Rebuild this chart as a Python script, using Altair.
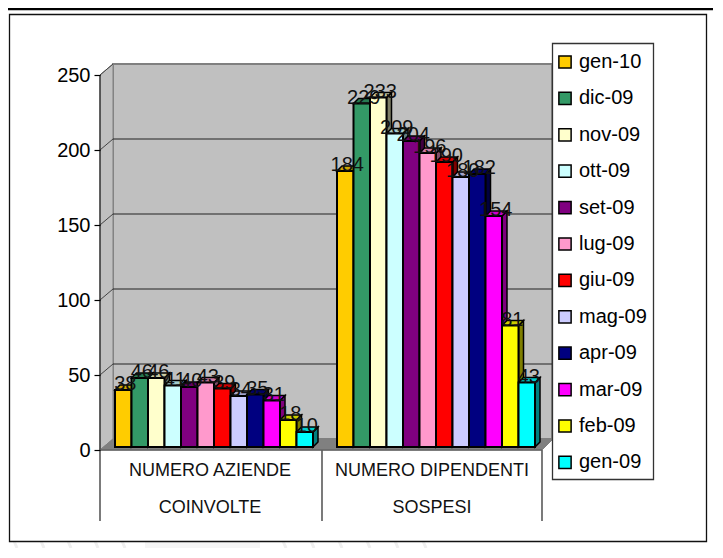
import altair as alt
import pandas as pd

months = ["gen-10","dic-09","nov-09","ott-09","set-09","lug-09","giu-09","mag-09","apr-09","mar-09","feb-09","gen-09"]
colors = ["#FFCC00","#339966","#FFFFCC","#CCFFFF","#800080","#FF99CC","#FF0000","#CCCCFF","#000080","#FF00FF","#FFFF00","#00FFFF"]
aziende = [38,46,46,41,40,43,39,34,35,31,18,10]
dipendenti = [184,229,233,209,204,196,190,180,182,154,81,43]
cat_lines = [["NUMERO AZIENDE","COINVOLTE"],["NUMERO DIPENDENTI","SOSPESI"]]
y_ticks = [0,50,100,150,200,250]

FONT = "Liberation Sans"
W, H = 705, 540
def U(px): return (px-115)/16.5          # image x -> slot units
def V(py): return (450-py)/1.5           # image y -> value units
xs = alt.Scale(domain=[U(8),U(8+W)], range=[0,W], nice=False, zero=False)
ys = alt.Scale(domain=[V(8+H),V(8)], range=[H,0], nice=False, zero=False)
y_axis = alt.Axis(orient="left",offset=-92,values=y_ticks,domain=False,grid=False,title=None,zindex=1,
        tickColor="black",tickSize=6,tickWidth=1.2,labelFont=FONT,labelFontSize=20,labelColor="black",labelPadding=4)
X = lambda f="x": alt.X(f, type="quantitative", scale=xs, axis=None)
X2 = lambda f="x2": alt.X2(f)
Y = lambda f="y": alt.Y(f, type="quantitative", scale=ys, axis=y_axis, stack=None)
Y2 = lambda f="y2": alt.Y2(f)

def shade(c,k):
    return "#%02X%02X%02X"%tuple(int(int(c[i:i+2],16)*k) for i in (1,3,5))

BASE=2.0; DX=5/16.5; DY=5/1.5
GROUP_START=[0.0,U(337)]
fr,top,side,lab=[],[],[],[]
bid=0
for g,vals in enumerate([aziende,dipendenti]):
    for i,v in enumerate(vals):
        x0=GROUP_START[g]+i; x1=x0+1; t=v+BASE
        fr.append(dict(x=x0,x2=x1,y=t,y2=BASE,month=months[i]))
        for a,b,c in [(x0,t,t),(x0+DX,t+DY,t),(x1,t+DY,t),(x1+DX,t+DY,t+DY)]:
            top.append(dict(x=a,y=b,y2=c,id=bid,c=shade(colors[i],.8)))
        for a,b,c in [(x1,t,BASE),(x1+DX,t+DY,BASE+DY)]:
            side.append(dict(x=a,y=b,y2=c,id=bid,c=shade(colors[i],.5)))
        lab.append(dict(x=x0+.5+2/16.5,y=t,t=str(v)))
        bid+=1
fr,top,side,lab=map(pd.DataFrame,(fr,top,side,lab))

def df(rows): return pd.DataFrame(rows)
layers=[]
# faint page stripes under the frame
stripes=df([dict(x=U(p),x2=U(p+3),y=V(541),y2=V(548)) for p in (14,41,68,95,122,283,311,339,367,395,423)])
layers.append(alt.Chart(stripes).mark_rule(color="#EFEFEF",strokeWidth=3).encode(x=X(),x2=X2(),y=Y(),y2=Y2()))
layers.append(alt.Chart(df([dict(x=U(145),x2=U(260),y=V(542),y2=V(548))])).mark_rect(fill="#F5F5F5").encode(x=X(),x2=X2(),y=Y(),y2=Y2()))
# frame
layers.append(alt.Chart(df([dict(x=U(9.5),x2=U(706.5),y=V(14.5),y2=V(541.5))])).mark_rect(fill="white",stroke="#111111",strokeWidth=1.3).encode(x=X(),x2=X2(),y=Y(),y2=Y2()))
# top page rule
layers.append(alt.Chart(df([dict(x=U(8),x2=U(8+W),y=V(9))])).mark_rule(color="black",strokeWidth=2.5).encode(x=X(),x2=X2(),y=Y()))
# wall
layers.append(alt.Chart(df([dict(x=U(113),x2=U(552),y=V(64),y2=V(439))])).mark_rect(fill="#C0C0C0",stroke="#808080",strokeWidth=1.8).encode(x=X(),x2=X2(),y=Y(),y2=Y2()))
# side wall
layers.append(alt.Chart(df([dict(x=U(100),y=V(75),y2=V(450)),dict(x=U(113),y=V(64),y2=V(439))])).mark_area(fill="#C0C0C0",stroke="#808080",strokeWidth=1).encode(x=X(),y=Y(),y2=Y2()))
# floor
layers.append(alt.Chart(df([dict(x=U(100),y=V(450),y2=V(450)),dict(x=U(113),y=V(450),y2=V(439)),dict(x=U(542),y=V(450),y2=V(439)),dict(x=U(553),y=V(439),y2=V(439))])).mark_area(fill="#808080",stroke="#808080").encode(x=X(),y=Y(),y2=Y2()))
# gridlines
wall_dy=V(439)-V(450)
grid=df([dict(x=U(113),x2=U(552),y=v+wall_dy) for v in y_ticks[1:-1]])
layers.append(alt.Chart(grid).mark_rule(color="#222222",strokeWidth=1).encode(x=X(),x2=X2(),y=Y()))
diag=df([dict(x=U(100),x2=U(113),y=v,y2=v+wall_dy) for v in y_ticks[1:]])
layers.append(alt.Chart(diag).mark_rule(color="#444444",strokeWidth=1).encode(x=X(),x2=X2(),y=Y(),y2=Y2()))
# front axis lines
layers.append(alt.Chart(df([dict(x=U(100),y=250,y2=V(521)),dict(x=U(322),y=0,y2=V(521)),dict(x=U(542),y=0,y2=V(521))])).mark_rule(color="#222222",strokeWidth=1.2).encode(x=X(),y=Y(),y2=Y2()))
layers.append(alt.Chart(df([dict(x=U(100),x2=U(542),y=0)])).mark_rule(color="#666666",strokeWidth=1.5).encode(x=X(),x2=X2(),y=Y()))
# bars
layers.append(alt.Chart(side).mark_area(stroke="black",strokeWidth=1.5).encode(x=X(),y=Y(),y2=Y2(),fill=alt.Fill("c:N",scale=None),detail="id:N"))
layers.append(alt.Chart(top).mark_area(stroke="black",strokeWidth=1.5).encode(x=X(),y=Y(),y2=Y2(),fill=alt.Fill("c:N",scale=None),detail="id:N"))
# legend box
layers.append(alt.Chart(df([dict(x=U(552.5),x2=U(653.5),y=V(43.5),y2=V(479.5))])).mark_rect(fill="white",stroke="#333333",strokeWidth=1.3).encode(x=X(),x2=X2(),y=Y(),y2=Y2()))
layers.append(alt.Chart(fr).mark_rect(stroke="black",strokeWidth=2).encode(x=X(),x2=X2(),y=Y(),y2=Y2(),
    fill=alt.Fill("month:N",scale=alt.Scale(domain=months,range=colors),sort=months,
      legend=alt.Legend(orient="none",legendX=542,legendY=39,title=None,padding=5,
        symbolType="square",symbolSize=150,symbolStrokeColor="black",symbolStrokeWidth=1.5,
        labelFont=FONT,labelFontSize=20,labelColor="black",labelOffset=4,rowPadding=16.4,labelLimit=200,values=months))))
# value labels
layers.append(alt.Chart(lab).mark_text(font=FONT,fontSize=20,color="#111111",align="center",baseline="alphabetic").encode(x=X(),y=Y(),text="t:N"))
# category labels
cat=[]
for cx,lines in zip((210,432),cat_lines):
    for yy,t in zip((V(476),V(513)),lines):
        cat.append(dict(x=U(cx),y=yy,t=t))
layers.append(alt.Chart(df(cat)).mark_text(font=FONT,fontSize=18,color="#111111",align="center",baseline="alphabetic").encode(x=X(),y=Y(),text="t:N"))

chart=alt.layer(*layers).properties(width=W,height=H,padding=0,autosize=alt.AutoSizeParams(type="none"),background="white").configure_view(stroke=None)
chart.save("out.html",embed_options={"renderer":"svg","actions":False})
